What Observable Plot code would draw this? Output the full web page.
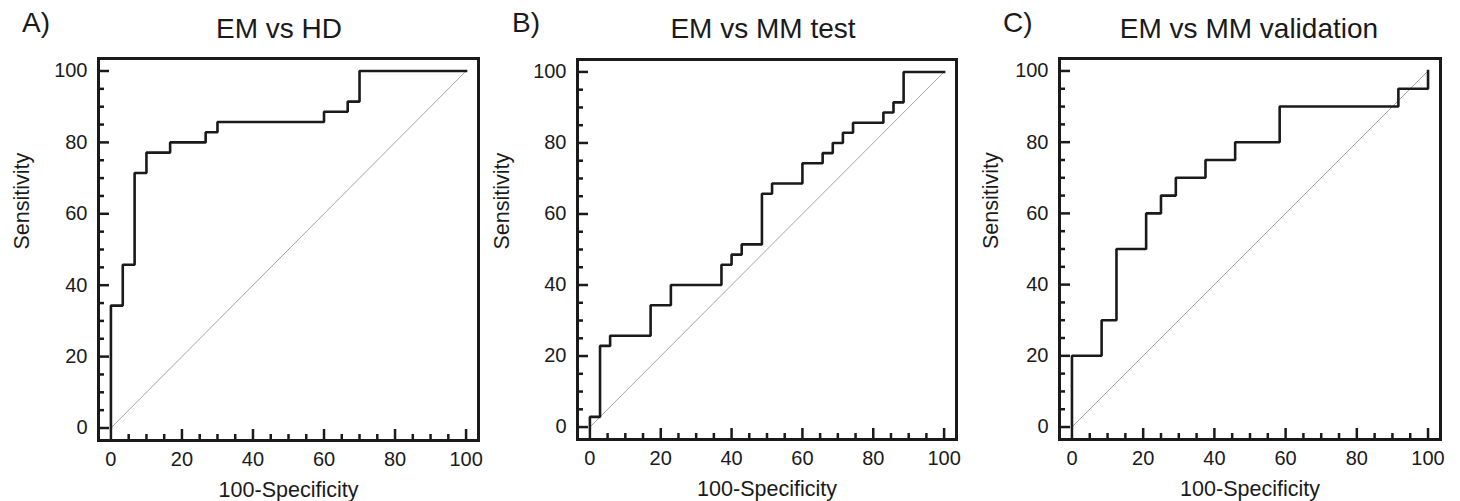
<!DOCTYPE html>
<html><head><meta charset="utf-8">
<script src="https://cdn.jsdelivr.net/npm/d3@7"></script>
<script src="https://cdn.jsdelivr.net/npm/@observablehq/plot@0.6"></script>
<style>
body{margin:0;background:#fff;}
#wrap{position:relative;width:1460px;height:501px;overflow:hidden;font-family:"Liberation Sans",Arial,sans-serif;color:#1a1a1a;background:#fff;}
.panel{position:absolute;top:0;}
.title{position:absolute;font-size:28px;line-height:28px;white-space:nowrap;text-align:center;width:400px;}
.letter{position:absolute;font-size:28px;line-height:28px;white-space:nowrap;}
</style></head><body><div id="wrap"></div>
<script>
// ---- data ----
const panelLetters = ["A)", "B)", "C)"];
const panelTitles = ["EM vs HD", "EM vs MM test", "EM vs MM validation"];
const xLabel = "100-Specificity";
const yLabel = "Sensitivity";
const majorTicks = [0, 20, 40, 60, 80, 100];
const minorTicks = [5, 10, 15, 25, 30, 35, 45, 50, 55, 65, 70, 75, 85, 90, 95];
const diagonal = [0, 100];

// ROC points (100-Specificity, Sensitivity), drawn as step-after
const fprA  = [0, 0, 3.33, 6.67, 10, 16.67, 26.67, 30, 60, 66.67, 70, 100];
const sensA = [0, 34.29, 45.71, 71.43, 77.14, 80, 82.86, 85.71, 88.57, 91.43, 100, 100];

const fprB  = [0, 0, 2.86, 5.71, 17.14, 22.86, 37.14, 40, 42.86, 48.57, 51.43, 60, 65.71, 68.57, 71.43, 74.29, 82.86, 85.71, 88.57, 100];
const sensB = [0, 2.86, 22.86, 25.71, 34.29, 40, 45.71, 48.57, 51.43, 65.71, 68.57, 74.29, 77.14, 80, 82.86, 85.71, 88.57, 91.43, 100, 100];

const fprC  = [0, 0, 8.33, 12.5, 20.83, 25, 29.17, 37.5, 45.83, 58.33, 91.67, 100];
const sensC = [0, 20, 30, 50, 60, 65, 70, 75, 80, 90, 95, 100];

const series = [[fprA, sensA], [fprB, sensB], [fprC, sensC]];

// ---- layout ----
const layout = [
  {left: 0,   width: 487, mL: 98, mR: 9,  mT: 58, mB: 61, titleX: 279,  letterX: 22,   labelDx: -85},
  {left: 490, width: 475, mL: 87, mR: 9,  mT: 59, mB: 62, titleX: 763,  letterX: 512,  labelDx: -84},
  {left: 970, width: 480, mL: 89, mR: 10, mT: 58, mB: 62, titleX: 1249, letterX: 1003, labelDx: -77}
];

const wrap = document.getElementById("wrap");
const ink = "#1a1a1a";

series.forEach(([xs, ys], i) => {
  const L = layout[i];
  const pts = xs.map((x, j) => ({x, y: ys[j]}));
  const chart = Plot.plot({
    width: L.width, height: 501,
    marginLeft: L.mL, marginRight: L.mR, marginTop: L.mT, marginBottom: L.mB,
    x: {domain: [-3.5, 103.5]},
    y: {domain: [-3.5, 103.5]},
    style: {fontFamily: '"Liberation Sans", Arial, sans-serif', fontSize: "20px", color: ink, background: "transparent", overflow: "visible"},
    marks: [
      Plot.line(diagonal, {x: d => d, y: d => d, stroke: "#9a9a9a", strokeWidth: 0.9}),
      Plot.line(pts, {x: "x", y: "y", curve: "step-after", stroke: ink, strokeWidth: 2.6, strokeLinejoin: "miter", strokeLinecap: "square"}),
      Plot.axisY(minorTicks, {anchor: "left", tickSize: -6, fill: "none", label: null, strokeWidth: 2.5}),
      Plot.axisY(majorTicks, {anchor: "left", tickSize: -11, tickPadding: 22, label: null, strokeWidth: 2.5, tickFormat: d3.format("d")}),
      Plot.axisX(minorTicks, {anchor: "bottom", tickSize: -6, fill: "none", label: null, strokeWidth: 2.5}),
      Plot.axisX(majorTicks, {anchor: "bottom", tickSize: -11, tickPadding: 22, label: null, strokeWidth: 2.5, tickFormat: d3.format("d")}),
      Plot.frame({stroke: ink, strokeWidth: 3}),
      Plot.text([yLabel], {frameAnchor: "left", rotate: -90, dx: L.labelDx, lineAnchor: "top", fontSize: 21.5, fill: ink}),
      Plot.text([xLabel], {frameAnchor: "bottom", dy: 56, lineAnchor: "bottom", fontSize: 21.5, fill: ink})
    ]
  });
  const div = document.createElement("div");
  div.className = "panel";
  div.style.left = L.left + "px";
  div.appendChild(chart);
  wrap.appendChild(div);

  const t = document.createElement("div");
  t.className = "title";
  t.textContent = panelTitles[i];
  t.style.left = (L.titleX - 200) + "px";
  t.style.top = "15px";
  wrap.appendChild(t);

  const lt = document.createElement("div");
  lt.className = "letter";
  lt.textContent = panelLetters[i];
  lt.style.left = L.letterX + "px";
  lt.style.top = "9px";
  wrap.appendChild(lt);
});
</script>
</body></html>
